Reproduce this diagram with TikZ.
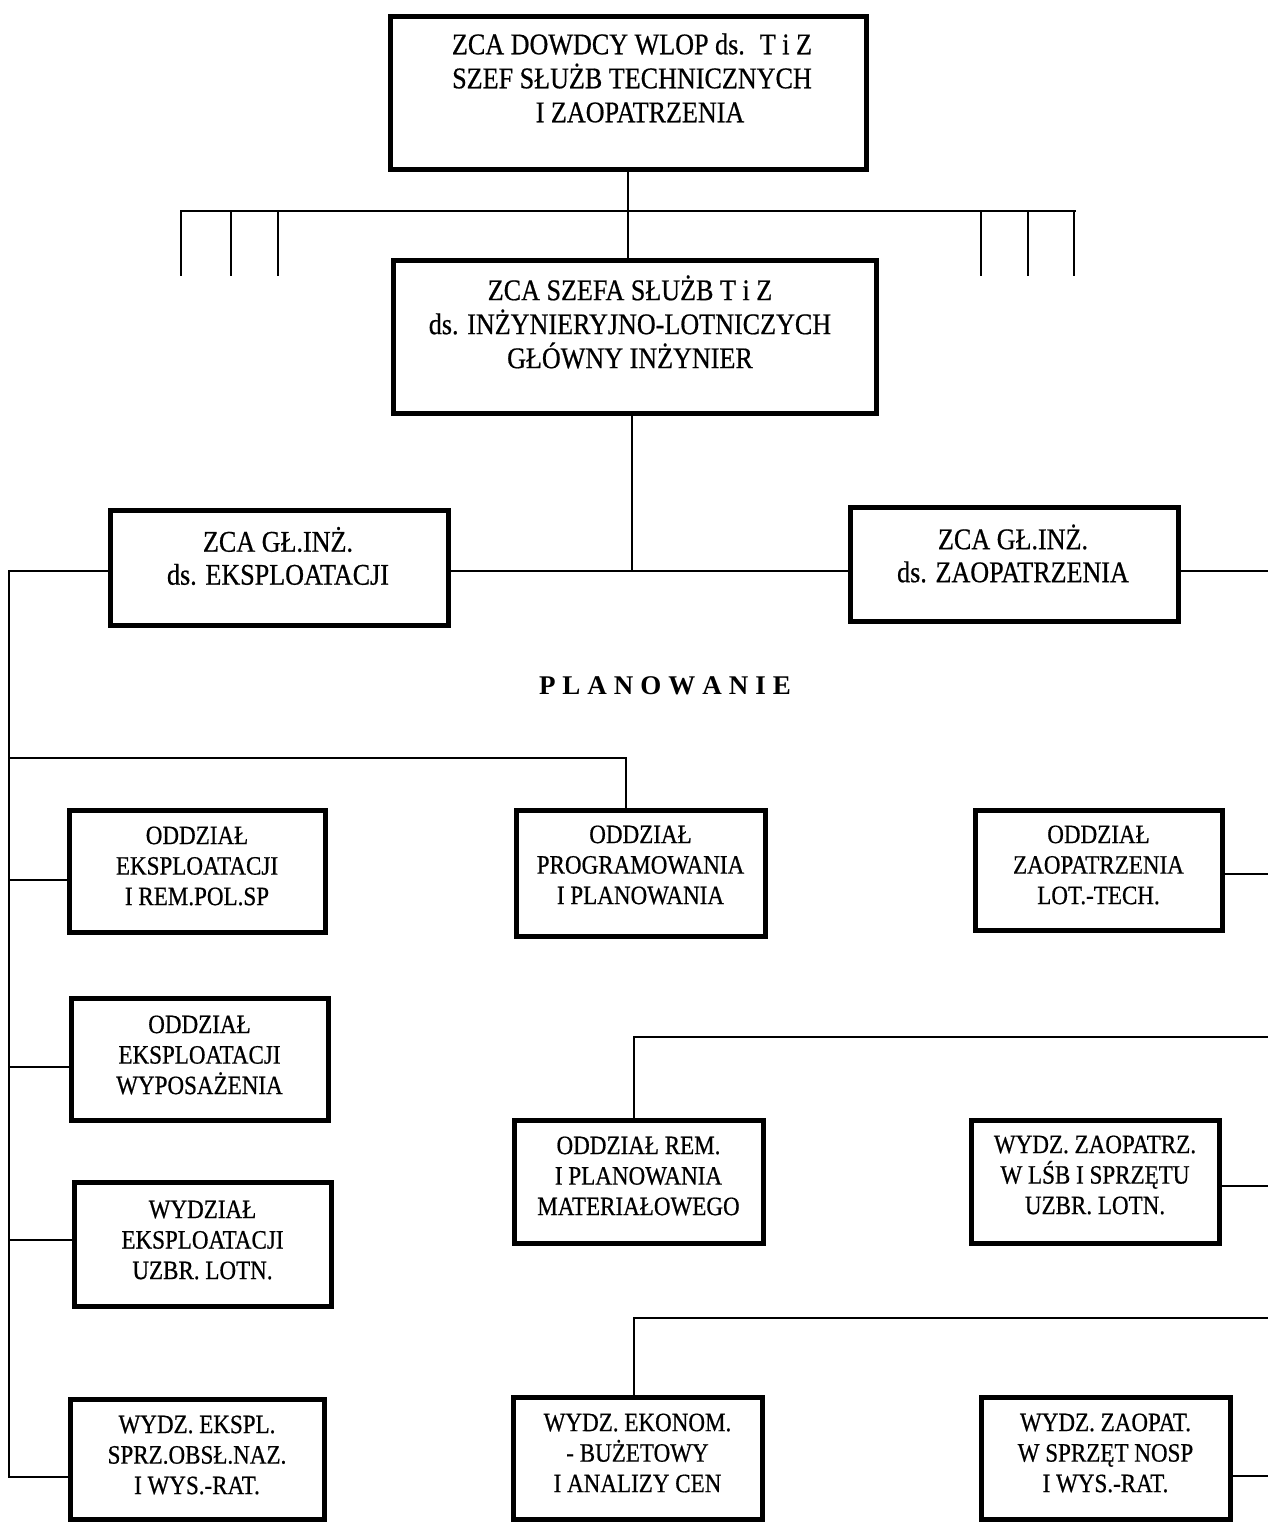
\documentclass[tikz,border=0pt]{standalone}
\usepackage{fontspec}
\setmainfont{Liberation Serif}[FakeStretch=0.87, FakeBold=0.6]
\newfontfamily\planfont{Liberation Serif}
\begin{document}
\begin{tikzpicture}[x=1pt,y=-1pt,
  box/.style={draw, line width=5pt, inner sep=0pt},
  bigtxt/.style={align=center, font=\fontsize{30}{34}\selectfont, inner sep=0pt},
  midtxt/.style={align=center, font=\fontsize{30}{33}\selectfont, inner sep=0pt},
  smalltxt/.style={align=center, font=\fontsize{26.5}{30.5}\selectfont, inner sep=0pt},
  conn/.style={line width=2pt},
  tickline/.style={line width=2.8pt}]
\fill[white] (0,0) rectangle (1268,1523);
\useasboundingbox (0,0) rectangle (1268,1523);

% ---- boxes ----
\node[box, minimum width=476pt, minimum height=153pt] (top) at (628,92.5) {};
\node[bigtxt] (topt) at (632,78) {ZCA DOWDCY WLOP ds.\enspace T i Z\\ SZEF SŁUŻB TECHNICZNYCH\\ \hspace*{16pt}I ZAOPATRZENIA};

\node[box, minimum width=483pt, minimum height=153pt] (sec) at (634.5,336.5) {};
\node[bigtxt] (sect) at (630,322) {ZCA SZEFA SŁUŻB T i Z\\ ds. INŻYNIERYJNO-LOTNICZYCH\\ GŁÓWNY INŻYNIER};

\node[box, minimum width=338pt, minimum height=115pt] (zl) at (279,567.5) {};
\node[midtxt] (zlt) at (278,556) {ZCA GŁ.INŻ.\\ ds. EKSPLOATACJI};

\node[box, minimum width=328pt, minimum height=114pt] (zr) at (1014,564) {};
\node[midtxt] (zrt) at (1013,553.5) {ZCA GŁ.INŻ.\\ ds. ZAOPATRZENIA};

\node[font=\planfont\bfseries\fontsize{27}{30}\selectfont, inner sep=0pt] (plan) at (665,686)
  {P\kern7pt L\kern7pt A\kern7pt N\kern7pt O\kern7pt W\kern7pt A\kern7pt N\kern7pt I\kern7pt E};

\node[box, minimum width=256pt, minimum height=122pt] (b5) at (197,871) {};
\node[smalltxt] (b5t) at (197,866) {ODDZIAŁ\\ EKSPLOATACJI\\ I REM.POL.SP};

\node[box, minimum width=257pt, minimum height=122pt] (b6) at (199.5,1059) {};
\node[smalltxt] (b6t) at (199.5,1055) {ODDZIAŁ\\ EKSPLOATACJI\\ WYPOSAŻENIA};

\node[box, minimum width=257pt, minimum height=124pt] (b7) at (202.5,1244) {};
\node[smalltxt] (b7t) at (202.5,1240) {WYDZIAŁ\\ EKSPLOATACJI\\ UZBR. LOTN.};

\node[box, minimum width=254pt, minimum height=120pt] (b8) at (197,1459) {};
\node[smalltxt] (b8t) at (197,1455) {WYDZ. EKSPL.\\ SPRZ.OBSŁ.NAZ.\\ I WYS.-RAT.};

\node[box, minimum width=249pt, minimum height=126pt] (b9) at (640.5,873) {};
\node[smalltxt] (b9t) at (640.5,865) {ODDZIAŁ\\ PROGRAMOWANIA\\ I PLANOWANIA};

\node[box, minimum width=249pt, minimum height=123pt] (b10) at (638.5,1181.5) {};
\node[smalltxt] (b10t) at (638.5,1176) {ODDZIAŁ REM.\\ I PLANOWANIA\\ MATERIAŁOWEGO};

\node[box, minimum width=249pt, minimum height=122pt] (b11) at (637.5,1458) {};
\node[smalltxt] (b11t) at (637.5,1453) {WYDZ. EKONOM.\\ - BUŻETOWY\\ I ANALIZY CEN};

\node[box, minimum width=247pt, minimum height=120pt] (b12) at (1098.5,870) {};
\node[smalltxt] (b12t) at (1098.5,865) {ODDZIAŁ\\ ZAOPATRZENIA\\ LOT.-TECH.};

\node[box, minimum width=248pt, minimum height=123pt] (b13) at (1095,1181.5) {};
\node[smalltxt] (b13t) at (1095,1175) {WYDZ. ZAOPATRZ.\\ W LŚB I SPRZĘTU\\ UZBR. LOTN.};

\node[box, minimum width=249pt, minimum height=122pt] (b14) at (1105.5,1458) {};
\node[smalltxt] (b14t) at (1105.5,1453) {WYDZ. ZAOPAT.\\ W SPRZĘT NOSP\\ I WYS.-RAT.};

% ---- coordinates ----
\coordinate (hbl) at (180,211);
\coordinate (hbr) at (1076,211);
\coordinate (mid) at (632,571);
\coordinate (lsTop) at (9,571);
\coordinate (lsBot) at (9,1477);
\coordinate (rEdge) at (1268,571);
\coordinate (pl) at (9,758);
\coordinate (pc) at (626,758);
\coordinate (c5) at (9,880);
\coordinate (c6) at (9,1067);
\coordinate (c7) at (9,1240);
\coordinate (r12) at (1268,874);
\coordinate (h10) at (634,1037);
\coordinate (h10r) at (1268,1037);
\coordinate (r13) at (1268,1186);
\coordinate (h11) at (634,1318);
\coordinate (h11r) at (1268,1318);
\coordinate (r14) at (1268,1476);

% ---- top connectors ----
\draw[conn] (top.south) -- (top.south |- sec.north);
\draw[conn] (hbl) -- (hbr);
\foreach \tx in {181,231,278,981,1028,1074}{
  \draw[tickline] (\tx,211) -- (\tx,276);
}
\draw[conn] (sec.south -| mid) -- (mid);
\draw[conn] (zl.east |- mid) -- (zr.west |- mid);
\draw[conn] (zl.west |- mid) -- (lsTop) -- (lsBot) -- (lsBot -| b8.west);
\draw[conn] (zr.east |- rEdge) -- (rEdge);

% ---- left branches ----
\draw[conn] (pl) -- (pc) -- (pc |- b9.north);
\draw[conn] (c5) -- (c5 -| b5.west);
\draw[conn] (c6) -- (c6 -| b6.west);
\draw[conn] (c7) -- (c7 -| b7.west);

% ---- right branches ----
\draw[conn] (r12 -| b12.east) -- (r12);
\draw[conn] (h10 |- b10.north) -- (h10) -- (h10r);
\draw[conn] (r13 -| b13.east) -- (r13);
\draw[conn] (h11 |- b11.north) -- (h11) -- (h11r);
\draw[conn] (r14 -| b14.east) -- (r14);
\end{tikzpicture}
\end{document}
